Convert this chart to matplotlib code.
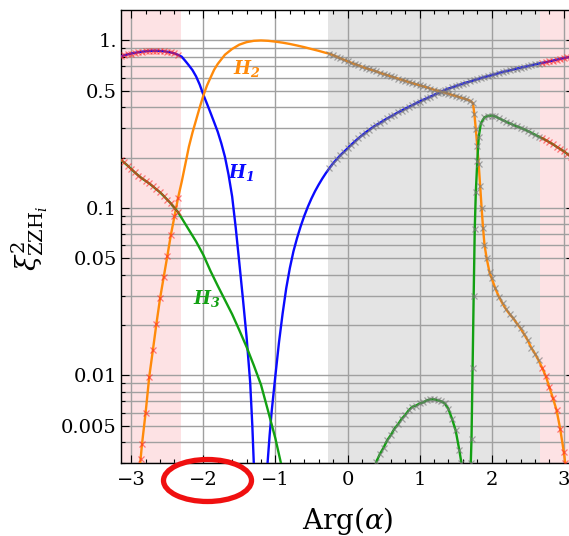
import matplotlib
matplotlib.use("Agg")
import matplotlib.pyplot as plt
from matplotlib.patches import Ellipse
from matplotlib.ticker import FixedLocator, LogLocator, MultipleLocator, NullFormatter
import numpy as np

plt.rcParams['font.family'] = ['DejaVu Serif']
plt.rcParams['mathtext.fontset'] = 'custom'
plt.rcParams['mathtext.rm'] = 'DejaVu Serif'
plt.rcParams['mathtext.it'] = 'DejaVu Serif:italic'
plt.rcParams['mathtext.bf'] = 'DejaVu Serif:bold:italic'

# ---------------- data ----------------
# H1 (blue), branch left of the zero
h1a_x = [-3.14, -3.10, -3.05, -3.00, -2.95, -2.90, -2.85, -2.80, -2.75, -2.70, -2.65, -2.60,
         -2.55, -2.50, -2.45, -2.40, -2.35, -2.30, -2.25, -2.20, -2.15, -2.10, -2.05, -2.00,
         -1.95, -1.90, -1.85, -1.80, -1.75, -1.70, -1.65, -1.60, -1.55, -1.50, -1.45, -1.40,
         -1.35, -1.32, -1.30, -1.28]
h1a_y = [0.805, 0.815, 0.826, 0.835, 0.843, 0.851, 0.857, 0.862, 0.866, 0.868, 0.868, 0.866,
         0.862, 0.856, 0.848, 0.837, 0.820, 0.800, 0.755, 0.710, 0.665, 0.610, 0.545, 0.475,
         0.420, 0.370, 0.325, 0.285, 0.243, 0.202, 0.158, 0.117, 0.076, 0.0468, 0.0285, 0.0170,
         0.0091, 0.0050, 0.0030, 0.00126]
# H1 (blue), branch right of the zero
h1b_x = [-1.13, -1.11, -1.08, -1.05, -1.00, -0.95, -0.90, -0.85, -0.80, -0.75, -0.70, -0.65,
         -0.60, -0.55, -0.50, -0.45, -0.40, -0.35, -0.30,
         -0.25, -0.20, -0.15, -0.10, -0.05, 0.00, 0.05, 0.10, 0.15, 0.20,
         0.25, 0.30, 0.35, 0.40, 0.45, 0.50, 0.55, 0.60, 0.65, 0.70,
         0.75, 0.80, 0.85, 0.90, 0.95, 1.00, 1.05, 1.10, 1.15, 1.20,
         1.25, 1.30, 1.35, 1.40, 1.45, 1.50, 1.55, 1.60, 1.65, 1.70,
         1.75, 1.80, 1.85, 1.90, 1.95, 2.00, 2.05, 2.10, 2.15, 2.20,
         2.25, 2.30, 2.35, 2.40, 2.45, 2.50, 2.55, 2.60, 2.65, 2.70,
         2.75, 2.80, 2.85, 2.90, 2.95, 3.00, 3.05, 3.10, 3.14]
h1b_y = [0.0016, 0.00295, 0.0044, 0.0062, 0.0100, 0.0158, 0.0234, 0.0331, 0.0437, 0.0550, 0.0660, 0.0776,
         0.0895, 0.1016, 0.1138, 0.1259, 0.1377, 0.1496, 0.1614,
         0.173, 0.1845, 0.195, 0.206, 0.216, 0.2265, 0.2377, 0.249, 0.260, 0.271,
         0.282, 0.292, 0.303, 0.313, 0.322, 0.332, 0.342, 0.352, 0.361, 0.372,
         0.381, 0.391, 0.401, 0.411, 0.422, 0.432, 0.442, 0.452, 0.462, 0.473,
         0.484, 0.495, 0.506, 0.516, 0.525, 0.534, 0.543, 0.552, 0.561, 0.569,
         0.578, 0.587, 0.596, 0.605, 0.613, 0.621, 0.629, 0.640, 0.648, 0.656,
         0.663, 0.671, 0.679, 0.687, 0.695, 0.703, 0.711, 0.720, 0.727, 0.735,
         0.742, 0.750, 0.758, 0.767, 0.776, 0.785, 0.792, 0.800, 0.805]

# H2 (orange)
h2_x = [-2.89, -2.87, -2.85, -2.80, -2.75, -2.70, -2.65, -2.60, -2.55, -2.50, -2.45, -2.40,
        -2.35, -2.30, -2.25, -2.20, -2.15, -2.10, -2.05, -2.00, -1.95, -1.90, -1.85, -1.80,
        -1.70, -1.60, -1.50, -1.40, -1.30, -1.20, -1.10, -1.00, -0.90, -0.80, -0.70, -0.60,
        -0.50, -0.40, -0.30,
        -0.25, -0.20, -0.15, -0.10, -0.05, 0.00, 0.05, 0.10, 0.15, 0.20,
        0.25, 0.30, 0.35, 0.40, 0.45, 0.50, 0.55, 0.60, 0.65, 0.70,
        0.75, 0.80, 0.85, 0.90, 0.95, 1.00, 1.05, 1.10, 1.15, 1.20,
        1.25, 1.30, 1.35, 1.40, 1.45, 1.50, 1.55, 1.60, 1.65, 1.70,
        1.74, 1.76, 1.78, 1.80, 1.82, 1.84, 1.86, 1.88, 1.90, 1.93, 1.97, 2.00,
        2.05, 2.10, 2.15, 2.20, 2.25, 2.30, 2.35, 2.40, 2.45, 2.50, 2.55, 2.60, 2.65,
        2.70, 2.75, 2.80, 2.85, 2.90, 2.95, 3.00, 3.02, 3.04]
h2_y = [0.0025, 0.00316, 0.0039, 0.0060, 0.0098, 0.0141, 0.0204, 0.0288, 0.0385, 0.0513, 0.069, 0.089,
        0.115, 0.143, 0.182, 0.232, 0.282, 0.335, 0.398, 0.468, 0.537, 0.600, 0.668, 0.724,
        0.822, 0.890, 0.944, 0.977, 0.995, 1.000, 0.995, 0.984, 0.970, 0.953, 0.933, 0.912,
        0.889, 0.867, 0.843,
        0.834, 0.817, 0.800, 0.783, 0.767, 0.752, 0.736, 0.723, 0.710, 0.697,
        0.685, 0.674, 0.664, 0.653, 0.641, 0.631, 0.621, 0.611, 0.601, 0.592,
        0.583, 0.574, 0.565, 0.556, 0.548, 0.540, 0.532, 0.524, 0.516, 0.508,
        0.501, 0.494, 0.488, 0.481, 0.473, 0.467, 0.459, 0.452, 0.445, 0.437,
        0.422, 0.363, 0.295, 0.234, 0.182, 0.135, 0.100, 0.0759, 0.0603, 0.0501, 0.0412, 0.0380,
        0.0331, 0.0295, 0.0269, 0.0248, 0.0232, 0.0219, 0.0204, 0.0191, 0.0176, 0.0162, 0.0146, 0.0135, 0.0123,
        0.0111, 0.0099, 0.0085, 0.0073, 0.0062, 0.0048, 0.0035, 0.0030, 0.0024]

# H3 (green), three visible pieces
h3a_x = [-3.14, -3.10, -3.05, -3.00, -2.95, -2.90, -2.85, -2.80, -2.75, -2.70, -2.65, -2.60,
         -2.55, -2.50, -2.45, -2.40, -2.35, -2.30, -2.20, -2.10, -2.00, -1.90, -1.80, -1.70,
         -1.60, -1.50, -1.40, -1.30, -1.20, -1.10, -1.00, -0.90, -0.85]
h3a_y = [0.193, 0.187, 0.179, 0.171, 0.163, 0.156, 0.150, 0.145, 0.140, 0.1346, 0.129, 0.124,
         0.118, 0.112, 0.1064, 0.100, 0.0944, 0.087, 0.074, 0.063, 0.0525, 0.042, 0.0343, 0.0282,
         0.0232, 0.0186, 0.0148, 0.0115, 0.0088, 0.0061, 0.0042, 0.0027, 0.0020]
h3b_x = [0.38, 0.40, 0.45, 0.50, 0.55, 0.60, 0.65, 0.70, 0.75, 0.80, 0.85, 0.90, 0.95, 1.00,
         1.05, 1.10, 1.15, 1.20, 1.25, 1.30, 1.35, 1.40, 1.45, 1.50, 1.55, 1.58, 1.60]
h3b_y = [0.0028, 0.00305, 0.0034, 0.0037, 0.0041, 0.0044, 0.0048, 0.0051, 0.0055, 0.0058, 0.0062,
         0.0065, 0.0066, 0.0068, 0.0069, 0.0071, 0.0072, 0.0072, 0.0071, 0.0070, 0.0068, 0.0063,
         0.0055, 0.0047, 0.0036, 0.0030, 0.0025]
h3c_x = [1.705, 1.71, 1.72, 1.735, 1.75, 1.765, 1.78, 1.80, 1.82, 1.85, 1.90, 1.95, 2.00,
         2.05, 2.10, 2.15, 2.20, 2.25, 2.30, 2.35, 2.40, 2.45, 2.50, 2.55, 2.60, 2.65,
         2.70, 2.75, 2.80, 2.85, 2.90, 2.95, 3.00, 3.05, 3.10, 3.14]
h3c_y = [0.0025, 0.0030, 0.0042, 0.011, 0.030, 0.075, 0.125, 0.190, 0.265, 0.320, 0.348, 0.355, 0.356,
         0.352, 0.343, 0.335, 0.327, 0.320, 0.313, 0.307, 0.301, 0.295, 0.288, 0.281, 0.274, 0.267,
         0.261, 0.254, 0.247, 0.240, 0.232, 0.225, 0.218, 0.210, 0.202, 0.196]

# shaded bands (x ranges)
pink_left_end = -2.31
gray_start = -0.27
gray_end = 2.665

x_ticks = [-3, -2, -1, 0, 1, 2, 3]
x_tick_labels = ['\u22123', '\u22122', '\u22121', '0', '1', '2', '3']
y_ticks = [0.005, 0.01, 0.05, 0.1, 0.5, 1.0]
y_tick_labels = ['0.005', '0.01', '0.05', '0.1', '0.5', '1.']

# ---------------- figure ----------------
W, H = 569, 536
fig = plt.figure(figsize=(W / 100, H / 100), dpi=100)
ax_l, ax_r, ax_t, ax_b = 121, 574, 10, 463
ax = fig.add_axes([ax_l / W, 1 - ax_b / H, (ax_r - ax_l) / W, (ax_b - ax_t) / H])
ax.set_yscale('log')
ax.set_xlim(-np.pi, np.pi)
ax.set_ylim(0.003, 1.52)

PINK = '#fde2e4'
GRAY = '#e4e4e4'
ax.axvspan(-np.pi, pink_left_end, color=PINK, lw=0, zorder=0)
ax.axvspan(gray_start, gray_end, color=GRAY, lw=0, zorder=0)
ax.axvspan(gray_end, np.pi, color=PINK, lw=0, zorder=0)

ax.xaxis.set_major_locator(FixedLocator(x_ticks))
ax.set_xticklabels(x_tick_labels)
ax.xaxis.set_minor_locator(MultipleLocator(0.2))
ax.yaxis.set_major_locator(FixedLocator(y_ticks))
ax.set_yticklabels(y_tick_labels)
ax.yaxis.set_minor_locator(LogLocator(base=10, subs=np.arange(1, 10), numticks=50))
ax.yaxis.set_minor_formatter(NullFormatter())

ax.grid(which='major', axis='x', color='#a0a0a0', lw=1.0, zorder=1)
ax.grid(which='both', axis='y', color='#a0a0a0', lw=1.0, zorder=1)

ax.tick_params(which='both', direction='in', top=True, right=True, width=0.8, color='black')
ax.tick_params(which='major', length=6, labelsize=14)
ax.tick_params(which='minor', length=3)
ax.tick_params(axis='x', pad=6)
ax.tick_params(axis='y', pad=3)
for s in ax.spines.values():
    s.set_linewidth(1.0)

BLUE = '#0a0aff'
ORANGE = '#ff8a0a'
GREEN = '#12a012'


def draw(xs, ys, color):
    xs = np.asarray(xs)
    ys = np.asarray(ys)
    ax.plot(xs, ys, color=color, lw=1.7, zorder=3, solid_joinstyle='round')
    pink = (xs < pink_left_end) | (xs > gray_end)
    gray = (xs > gray_start) & (xs <= gray_end)
    ax.plot(xs[pink], ys[pink], ls='none', marker='x', ms=5, mew=0.9,
            color='#ff2a2a', alpha=0.6, zorder=4)
    ax.plot(xs[gray], ys[gray], ls='none', marker='x', ms=5, mew=0.9,
            color='#7a7a7a', alpha=0.65, zorder=4)


draw(h1a_x, h1a_y, BLUE)
draw(h1b_x, h1b_y, BLUE)
draw(h2_x, h2_y, ORANGE)
draw(h3a_x, h3a_y, GREEN)
draw(h3b_x, h3b_y, GREEN)
draw(h3c_x, h3c_y, GREEN)

lab_kw = dict(fontsize=13, ha='center', va='center', zorder=5)
ax.text(-1.40, 0.68, r'$\mathbf{H}_\mathbf{2}$', color=ORANGE, **lab_kw)
ax.text(-1.47, 0.163, r'$\mathbf{H}_\mathbf{1}$', color=BLUE, **lab_kw)
ax.text(-1.955, 0.0287, r'$\mathbf{H}_\mathbf{3}$', color=GREEN, **lab_kw)

fig.text(348 / W, 1 - 521 / H, r'Arg$(\alpha)$', fontsize=20, ha='center', va='center')
fig.text(30 / W, 1 - 238 / H, r'$\xi^2_{\mathrm{ZZH}_i}$', fontsize=20, rotation=90,
         ha='center', va='center')

ell = Ellipse((207.5 / W, 1 - 480.5 / H), 88 / W, 42 / H, transform=fig.transFigure,
              fill=False, edgecolor='#f01010', lw=3.8, zorder=10)
fig.patches.append(ell)

fig.savefig('out.png', dpi=100)
